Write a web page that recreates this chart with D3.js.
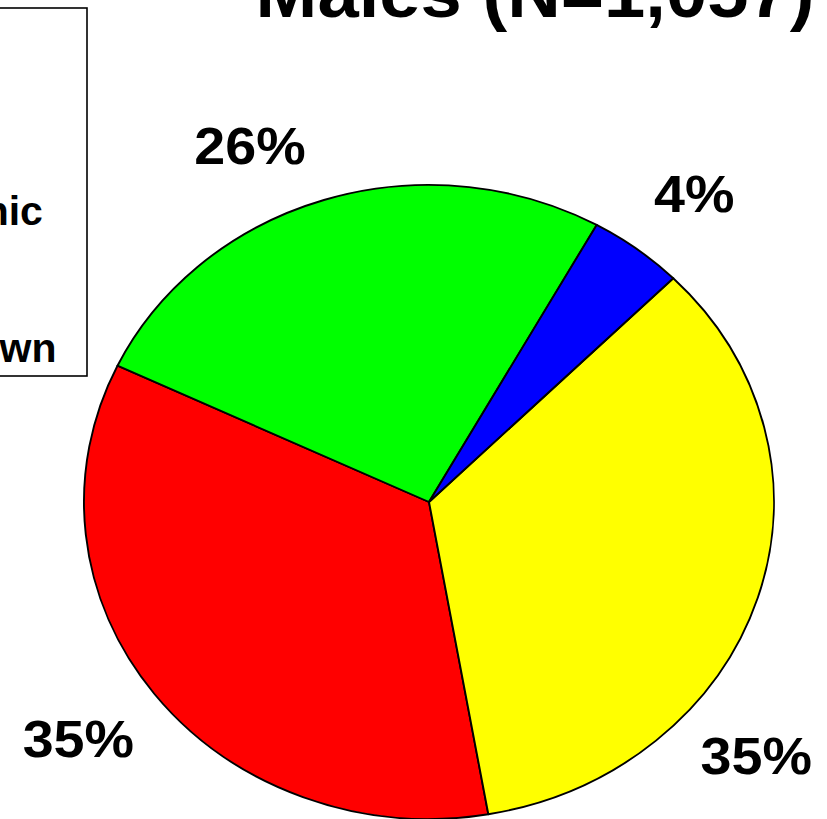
<!DOCTYPE html>
<html>
<head>
<meta charset="utf-8">
<script src="https://cdn.jsdelivr.net/npm/d3@7"></script>
<style>
  html, body { margin: 0; padding: 0; background: #fff; }
  svg { display: block; }
  text { font-family: "Liberation Sans", Arial, Helvetica, sans-serif; font-weight: bold; fill: #000; }
</style>
</head>
<body>
<svg id="chart" width="827" height="819"></svg>
<script>
// Male cases by race/ethnicity
const categories = ["White", "Hispanic", "Black", "Unknown"];
const counts     = [368, 275, 367, 47];
const colors     = ["#ff0000", "#00ff00", "#ffff00", "#0000ff"];
const titleText  = "Males (N=1,057)";

// drawing order around the pie, clockwise
const sliceOrder = ["Unknown", "Black", "White", "Hispanic"];

const W = 827, H = 819;
const svg = d3.select("#chart");

// pie geometry (slightly wider than tall)
const cx = 429, cy = 502, rx = 345, ry = 317;
const startDeg = 29.1;
const textStretch = 1.07;

const rows = categories.map((c, i) => ({ name: c, value: counts[i], color: colors[i] }));
const total = d3.sum(counts);

const pie = d3.pie()
  .value(d => d.value)
  .sort((a, b) => sliceOrder.indexOf(a.name) - sliceOrder.indexOf(b.name))
  .startAngle(startDeg * Math.PI / 180)
  .endAngle((startDeg + 360) * Math.PI / 180);

const arcs = pie(rows);
const arc = d3.arc().innerRadius(0).outerRadius(1);

const g = svg.append("g").attr("transform", `translate(${cx},${cy}) scale(${rx},${ry})`);
g.selectAll("path")
  .data(arcs)
  .join("path")
  .attr("d", arc)
  .attr("fill", d => d.data.color)
  .attr("stroke", "#000")
  .attr("stroke-width", 1.9)
  .attr("stroke-linejoin", "round")
  .attr("vector-effect", "non-scaling-stroke");

// percentage labels placed outside the rim; a few nudged to stay clear of the frame
const labelRadius = { Unknown: 1.24, Black: 1.24, White: 1.26, Hispanic: 1.24 };
const labelNudgeDeg = { Unknown: 1.2, Black: 22.5, White: 1.0, Hispanic: -7.0 };
const pctFmt = v => Math.round(100 * v / total) + "%";

svg.append("g")
  .selectAll("text")
  .data(arcs)
  .join("text")
  .attr("transform", d => {
    const a = (d.startAngle + d.endAngle) / 2 + (labelNudgeDeg[d.data.name] || 0) * Math.PI / 180;
    const r = labelRadius[d.data.name];
    const x = cx + Math.sin(a) * r * rx;
    const y = cy - Math.cos(a) * r * ry;
    return `translate(${x},${y}) scale(${textStretch},1)`;
  })
  .attr("text-anchor", "middle")
  .attr("dy", "0.36em")
  .attr("font-size", 52)
  .text(d => pctFmt(d.data.value));

// title
svg.append("text")
  .attr("transform", `translate(535,17) scale(1.06,1)`)
  .attr("text-anchor", "middle")
  .attr("font-size", 70)
  .text(titleText);

// legend box (left side)
const legend = svg.append("g");
const boxRight = 87, boxTop = 8, boxBottom = 376, boxLeft = -300;
legend.append("rect")
  .attr("x", boxLeft).attr("y", boxTop)
  .attr("width", boxRight - boxLeft).attr("height", boxBottom - boxTop)
  .attr("fill", "none").attr("stroke", "#000").attr("stroke-width", 1.6);

const rowY = d3.scalePoint().domain(categories).range([155, 361]);
const textX = -128;
const item = legend.selectAll("g.item")
  .data(rows)
  .join("g")
  .attr("class", "item");
item.append("rect")
  .attr("x", textX - 60).attr("y", d => rowY(d.name) - 30)
  .attr("width", 40).attr("height", 30)
  .attr("fill", d => d.color).attr("stroke", "#000");
item.append("text")
  .attr("x", textX)
  .attr("y", d => rowY(d.name) + 1)
  .attr("font-size", 41)
  .text(d => d.name);
</script>
</body>
</html>
